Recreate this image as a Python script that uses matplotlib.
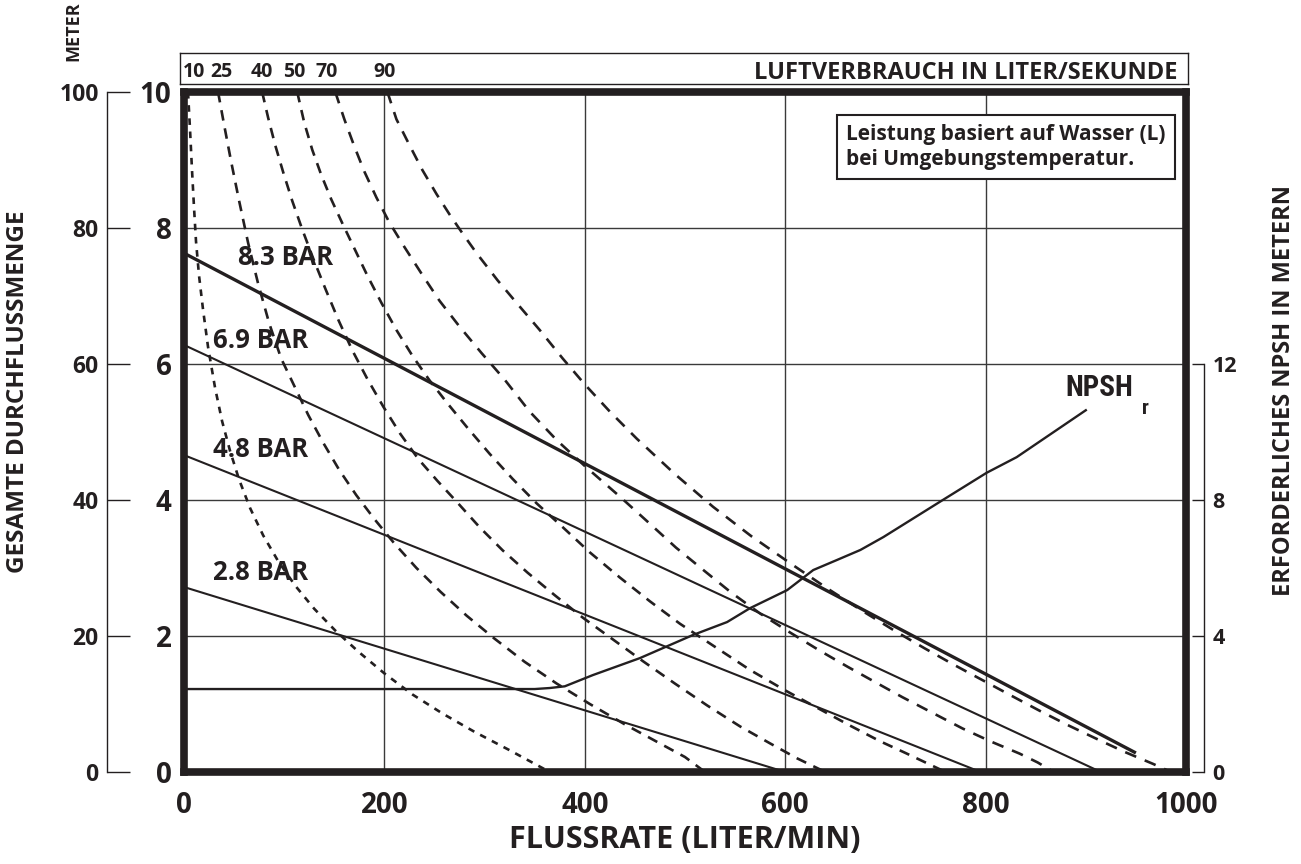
import matplotlib
matplotlib.use("Agg")
import matplotlib.pyplot as plt

plt.rcParams['font.family'] = ['Open Sans', 'DejaVu Sans']
plt.rcParams['font.weight'] = 'bold'

INK = '#231f20'
W, H = 1301, 864

# ---- data -------------------------------------------------------------
# pressure lines: flow (l/min) vs head (bar)
BAR_LABELS = ['8.3 BAR', '6.9 BAR', '4.8 BAR', '2.8 BAR']
BAR_X = [[0, 950], [0, 915], [0, 795], [0, 600]]
BAR_Y = [[7.63, 0.28], [6.28, 0.0], [4.66, 0.0], [2.72, 0.0]]
BAR_LABEL_X = [54, 29, 29, 29]
BAR_LABEL_Y = [7.57, 6.35, 4.74, 2.93]

# air consumption curves (l/s)
AIR_LABELS = ['10', '25', '40', '50', '70', '90']
AIR_LABEL_X = [10, 37, 78, 110, 143, 201]

AIR_10_X = [4, 6, 8, 10, 12, 15, 19, 24, 31, 38, 46, 55, 66, 79, 94, 111, 130, 151,
            174, 200, 228, 258, 290, 325, 365]
AIR_10_Y = [10, 9.45, 8.85, 8.3, 7.8, 7.3, 6.8, 6.25, 5.65, 5.16, 4.72, 4.3, 3.88,
            3.48, 3.1, 2.74, 2.4, 2.08, 1.77, 1.45, 1.14, 0.86, 0.59, 0.32, 0.0]

AIR_25_X = [34, 40, 47, 55, 64, 74, 85, 97, 110, 124, 139, 155, 172, 190, 210, 232,
            256, 282, 310, 340, 372, 405, 440, 475, 500, 520]
AIR_25_Y = [10, 9.52, 8.98, 8.4, 7.78, 7.18, 6.6, 6.08, 5.68, 5.25, 4.84, 4.44, 4.07,
            3.72, 3.36, 3.0, 2.65, 2.3, 1.96, 1.62, 1.3, 1.0, 0.7, 0.42, 0.22, 0.0]

AIR_40_X = [78, 84, 91, 99, 108, 118, 129, 141, 154, 168, 183, 199, 216, 234, 253,
            273, 295, 318, 343, 370, 398, 428, 458, 490, 522, 555, 585, 612, 640]
AIR_40_Y = [10, 9.62, 9.22, 8.82, 8.4, 7.98, 7.55, 7.11, 6.65, 6.2, 5.78, 5.37, 4.97,
            4.6, 4.28, 3.96, 3.6, 3.26, 2.93, 2.6, 2.27, 1.95, 1.63, 1.3, 0.98, 0.67,
            0.42, 0.2, 0.0]

AIR_50_X = [113, 120, 128, 137, 147, 158, 170, 183, 197, 212, 228, 245, 263, 283, 305,
            328, 352, 378, 405, 435, 465, 495, 530, 565, 600, 635, 665, 695, 720, 740,
            760]
AIR_50_Y = [10, 9.55, 9.15, 8.78, 8.42, 8.07, 7.7, 7.3, 6.9, 6.5, 6.12, 5.76, 5.42,
            5.06, 4.68, 4.31, 3.95, 3.6, 3.23, 2.86, 2.51, 2.18, 1.84, 1.5, 1.2, 0.92,
            0.68, 0.45, 0.28, 0.14, 0.0]

AIR_70_X = [151, 160, 170, 180, 192, 205, 220, 237, 255, 275, 297, 320, 345, 372, 400,
            435, 465, 491, 520, 546, 575, 605, 635, 662, 690, 717, 747, 777, 805, 834,
            852, 868]
AIR_70_Y = [10, 9.6, 9.2, 8.83, 8.45, 8.08, 7.72, 7.33, 6.93, 6.55, 6.16, 5.77, 5.3,
            4.88, 4.5, 4.05, 3.65, 3.3, 2.95, 2.64, 2.33, 2.05, 1.78, 1.55, 1.32, 1.1,
            0.87, 0.64, 0.45, 0.27, 0.14, 0.0]

AIR_90_X = [203, 212, 225, 238, 252, 265, 278, 292, 313, 333, 355, 378, 400, 425, 452,
            490, 528, 566, 605, 642, 678, 710, 739, 768, 797, 826, 854, 882, 909, 938,
            967, 985]
AIR_90_Y = [10, 9.6, 9.22, 8.85, 8.5, 8.2, 7.92, 7.63, 7.23, 6.88, 6.5, 6.08, 5.7,
            5.3, 4.9, 4.38, 3.9, 3.47, 3.07, 2.7, 2.36, 2.07, 1.82, 1.58, 1.35, 1.12,
            0.9, 0.69, 0.5, 0.3, 0.12, 0.0]

# required NPSH (m)
NPSH_X = [0, 350, 365, 380, 408, 455, 508, 542, 565, 602, 628, 652, 675, 698, 754,
          801, 831, 871, 900]
NPSH_Y = [2.44, 2.44, 2.47, 2.52, 2.85, 3.35, 4.03, 4.41, 4.82, 5.35, 5.94, 6.24,
          6.53, 6.91, 7.94, 8.8, 9.26, 10.06, 10.64]

X_TICKS = [0, 200, 400, 600, 800, 1000]
BAR_TICKS = [0, 2, 4, 6, 8, 10]
METER_TICKS = [0, 20, 40, 60, 80, 100]
NPSH_TICKS = [0, 4, 8, 12]

NARROW = ['Liberation Sans Narrow', 'Roboto Condensed', 'DejaVu Sans']


def fx(px):
    return px / W


def fy(py):
    return 1 - py / H


fig = plt.figure(figsize=(13.01, 8.64), dpi=100)

# ---- main axes ----------------------------------------------------------
ax = fig.add_axes([fx(184), fy(772), (1186 - 184) / W, (772 - 92) / H])
ax.set_xlim(0, 1000)
ax.set_ylim(0, 10)
for s in ax.spines.values():
    s.set_linewidth(5.5)
    s.set_color(INK)
    s.set_zorder(5)
ax.set_xticks(X_TICKS)
ax.set_yticks(BAR_TICKS)
ax.grid(True, color='#3a3a3a', linewidth=1.0)
ax.tick_params(length=0, labelsize=20, colors=INK)
ax.tick_params(axis='x', pad=14)
ax.tick_params(axis='y', pad=9)
ax.set_xlabel('FLUSSRATE (LITER/MIN)', fontsize=22, fontweight='bold', color=INK,
              labelpad=3)

air_x = [AIR_10_X, AIR_25_X, AIR_40_X, AIR_50_X, AIR_70_X, AIR_90_X]
air_y = [AIR_10_Y, AIR_25_Y, AIR_40_Y, AIR_50_Y, AIR_70_Y, AIR_90_Y]
air_dash = [(2.5, 2.5), (4, 3), (4, 3), (4, 3), (4.5, 3.5), (4.5, 3.5)]
for xs, ys, d in zip(air_x, air_y, air_dash):
    ax.plot(xs, ys, color=INK, linewidth=1.9, dashes=d, zorder=3)

bar_lw = [2.4, 1.5, 1.5, 1.5]
for xs, ys, lw in zip(BAR_X, BAR_Y, bar_lw):
    ax.plot(xs, ys, color=INK, linewidth=lw, solid_capstyle='butt', zorder=3)
for lab, lx, ly in zip(BAR_LABELS, BAR_LABEL_X, BAR_LABEL_Y):
    ax.text(lx, ly, lab, fontsize=18.5, color=INK, ha='left', va='center', zorder=4)

# ---- NPSH on its own scale ------------------------------------------------
axn = ax.twinx()
axn.set_ylim(0, 20)
for k in ['left', 'top', 'bottom']:
    axn.spines[k].set_visible(False)
axn.spines['right'].set_position(('outward', 13))
axn.spines['right'].set_bounds(0, 12)
axn.spines['right'].set_linewidth(1.0)
axn.spines['right'].set_color(INK)
axn.set_yticks(NPSH_TICKS)
axn.tick_params(axis='y', direction='in', length=8.5, width=1.0, colors=INK,
                labelsize=15.5, pad=6)
axn.plot(NPSH_X, NPSH_Y, color=INK, linewidth=1.7, zorder=3)
axn.text(913, 11.3, 'NPSH', fontsize=21, color=INK, ha='center', va='center',
         family=NARROW, fontstretch='condensed')
axn.text(956, 10.7, 'r', fontsize=15, color=INK, ha='left', va='center',
         family=NARROW, fontstretch='condensed')

# ---- outer meter scale ------------------------------------------------------
axm = fig.add_axes([fx(107), fy(772), 0.0001, (772 - 92) / H])
axm.set_ylim(0, 100)
axm.set_xticks([])
axm.set_yticks(METER_TICKS)
for k in ['right', 'top', 'bottom']:
    axm.spines[k].set_visible(False)
axm.spines['left'].set_linewidth(1.0)
axm.spines['left'].set_color(INK)
axm.tick_params(axis='y', direction='in', length=16.5, width=1.0, colors=INK,
                labelsize=16.5, pad=6)
axm.patch.set_visible(False)

# ---- top band -------------------------------------------------------------
axt = fig.add_axes([fx(180), fy(84), (1188 - 180) / W, (84 - 53) / H])
axt.set_xlim(-4, 1004)
axt.set_ylim(0, 1)
axt.set_xticks([])
axt.set_yticks([])
axt.patch.set_visible(False)
for s in axt.spines.values():
    s.set_linewidth(1.0)
    s.set_color(INK)
for lab, lx in zip(AIR_LABELS, AIR_LABEL_X):
    axt.text(lx, 0.22, lab, fontsize=14, color=INK, ha='center', va='baseline')
axt.text(994, 0.17, 'LUFTVERBRAUCH IN LITER/SEKUNDE', fontsize=17, color=INK,
         ha='right', va='baseline')

# ---- other labels -----------------------------------------------------------
fig.text(fx(18), fy(392), 'GESAMTE DURCHFLUSSMENGE', rotation=90, fontsize=17.5,
         color=INK, ha='center', va='center')
fig.text(fx(73), fy(31), 'METER', rotation=90, fontsize=13, color=INK,
         ha='center', va='center')
fig.text(fx(1284), fy(390), 'ERFORDERLICHES NPSH IN METERN', rotation=90,
         fontsize=17, color=INK, ha='center', va='center')
fig.text(fx(1006), fy(147), 'Leistung basiert auf Wasser (L)\nbei Umgebungstemperatur.',
         fontsize=15, color=INK, ha='center', va='center', multialignment='left',
         linespacing=1.25,
         bbox=dict(boxstyle='square,pad=0.45', fc='white', ec=INK, lw=1.5))

fig.savefig('out.png', dpi=100)
